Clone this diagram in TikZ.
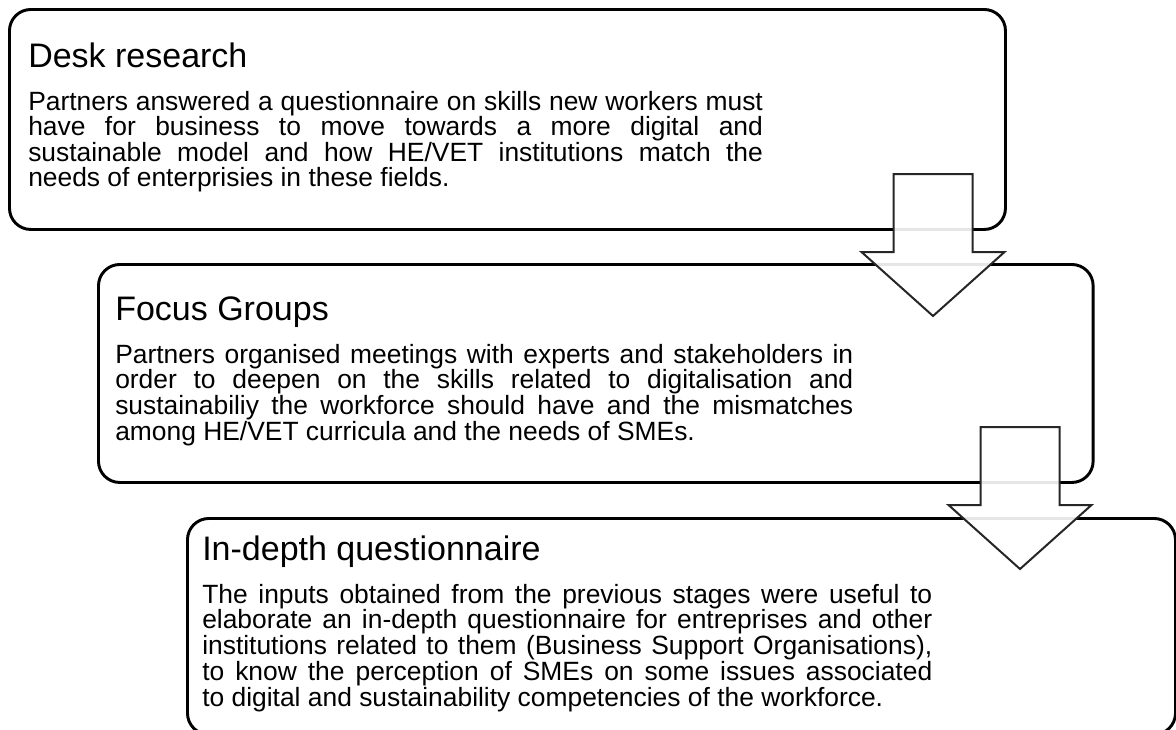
\documentclass[tikz,border=0pt]{standalone}
\usepackage{fontspec}
\setmainfont{Liberation Sans}
\usetikzlibrary{positioning}

\newcommand\stagefont{\fontsize{19.8}{18.2}\selectfont
  \tolerance=10000\relax\hyphenpenalty=10000\relax}

\begin{document}
\begin{tikzpicture}[
  x=0.75pt, y=-0.75pt,
  stage/.style={draw, line width=2.2pt, rounded corners=16pt, anchor=north west,
    inner sep=0pt},
  ttl/.style={anchor=base west, inner sep=0pt, font=\fontsize{25.5}{30}\selectfont},
  body/.style={anchor=base west, inner sep=0pt, text width=551pt, align=justify,
    font=\stagefont},
  blockarr/.style={draw=black!85, line width=1.5pt, fill=white, fill opacity=0.9,
    line join=miter}
]
\clip (0,0) rectangle (1176,729);

% the three stages
\node[stage, minimum width=747pt, minimum height=165pt] (desk) at (8,8) {};
\node[stage, minimum width=746pt, minimum height=163.5pt] (focus) at (97,263) {};
\node[stage, minimum width=741pt, minimum height=162pt] (quest) at (186,517) {};

\node[ttl] (deskT) at (28,67) {Desk research};
\node[body] (deskB) at (28,110)
  {Partners answered a questionnaire on skills new workers must\linebreak
   have for business to move towards a more digital and\linebreak
   sustainable model and how HE/VET institutions match the\linebreak
   needs of enterprisies in these fields.};

\node[ttl] (focusT) at (115,320) {Focus Groups};
\node[body, text width=553.5pt] (focusB) at (115,363)
  {Partners organised meetings with experts and stakeholders in\linebreak
   order to deepen on the skills related to digitalisation and\linebreak
   sustainabiliy the workforce should have and the mismatches\linebreak
   among HE/VET curricula and the needs of SMEs.};

\node[ttl] (questT) at (202,560) {In-depth questionnaire};
\node[body, text width=547.5pt] (questB) at (202,603)
  {The inputs obtained from the previous stages were useful to\linebreak
   elaborate an in-depth questionnaire for entreprises and other\linebreak
   institutions related to them (Business Support Organisations),\linebreak
   to know the perception of SMEs on some issues associated\linebreak
   to digital and sustainability competencies of the workforce.};

% block arrows between the stages
\coordinate (arr1) at (933,174);
\coordinate (arr2) at (1020,427);
\foreach \a in {arr1,arr2}
  \draw[blockarr, shift={(\a)}] (-39.5,0) -- (39.5,0) -- (39.5,78) -- (71.5,78)
    -- (0,142) -- (-71.5,78) -- (-39.5,78) -- cycle;
\end{tikzpicture}
\end{document}
